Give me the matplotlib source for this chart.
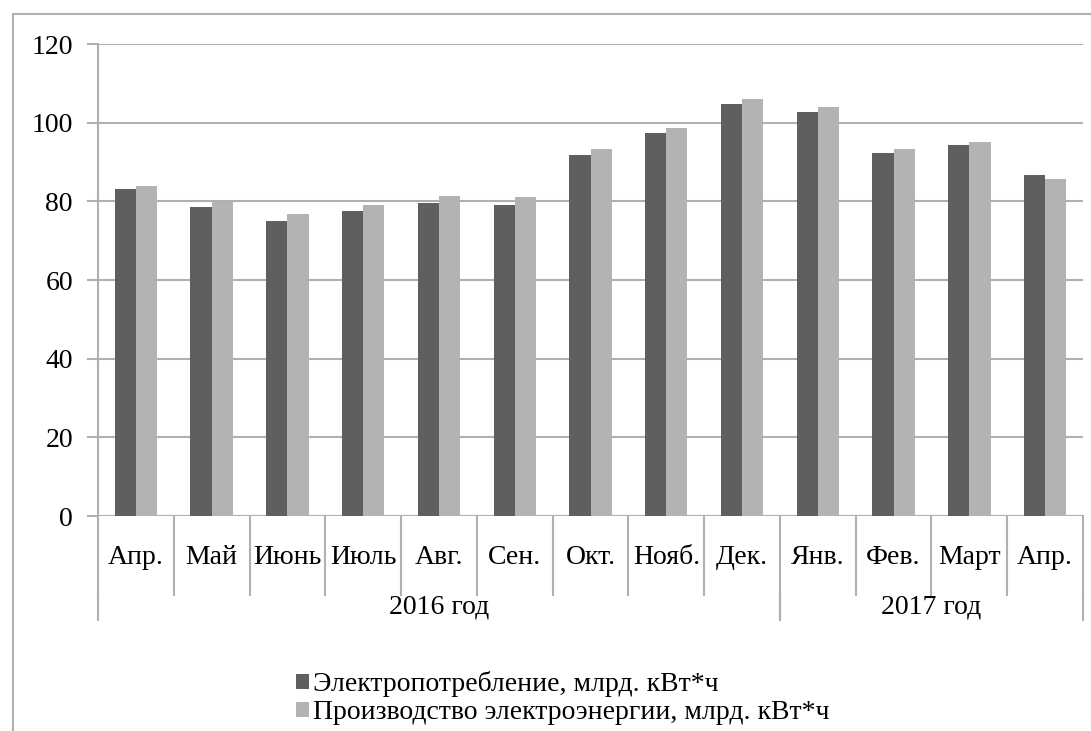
import matplotlib.pyplot as plt
import matplotlib.patches as mpatches
import numpy as np

pismo = 'Liberation Serif'
plt.rcParams['font.family'] = 'serif'
plt.rcParams['font.serif'] = [pismo, 'DejaVu Serif']

mesice = ['Апр.', 'Май', 'Июнь', 'Июль', 'Авг.', 'Сен.', 'Окт.', 'Нояб.', 'Дек.',
          'Янв.', 'Фев.', 'Март', 'Апр.']
roky = ['2016 год', '2017 год']
pocetVRoce = [9, 4]
spotreba = [83.1, 78.6, 75.0, 77.6, 79.5, 79.1, 91.8, 97.3, 104.8, 102.6, 92.4, 94.2, 86.7]
vyroba = [83.9, 79.9, 76.7, 79.0, 81.4, 81.2, 93.2, 98.7, 106.0, 104.1, 93.3, 95.2, 85.8]
nazvy = ['Электропотребление, млрд. кВт*ч', 'Производство электроэнергии, млрд. кВт*ч']

velikost = 20

fig = plt.figure(figsize=(10.91, 7.31), dpi=100)
ax = fig.add_axes([0.0898, 0.2941, 0.9029, 0.6457])

x = np.arange(len(mesice))
sirka = 0.28
b1 = ax.bar(x - sirka / 2, spotreba, sirka, color='#5f5f5f', label=nazvy[0], zorder=3)
b2 = ax.bar(x + sirka / 2, vyroba, sirka, color='#b3b3b3', label=nazvy[1], zorder=3)

ax.set_xlim(-0.5, len(mesice) - 0.5)
ax.set_ylim(0, 120)
ax.set_yticks(range(0, 121, 20))
ax.yaxis.grid(True, color='#b0b0b0', linewidth=1.5, zorder=0)
ax.tick_params(axis='y', length=8, color='#b0b0b0', width=1.5, labelsize=velikost, pad=10)
for t in ax.get_yticklabels():
    t.set_family(pismo)
ax.tick_params(axis='x', length=0, labelbottom=False)
for s in ['top', 'right', 'bottom']:
    ax.spines[s].set_visible(False)
ax.spines['left'].set_color('#b0b0b0')
ax.spines['left'].set_linewidth(1.5)
ax.axhline(0, color='#b0b0b0', linewidth=1.5, zorder=2)

tr = ax.get_xaxis_transform()
# popisky mesicu a oddelovace
for i, m in enumerate(mesice):
    ax.text(i, -0.087, m, transform=tr, ha='center', va='center', fontsize=velikost, family=pismo)
hranice = np.arange(len(mesice) + 1) - 0.5
for h in hranice:
    ax.plot([h, h], [0, -0.167], transform=tr, color='#b0b0b0', lw=1.5, clip_on=False)

# roky
zac = 0
for r, n in zip(roky, pocetVRoce):
    ax.text(zac + n / 2 - 0.5, -0.193, r, transform=tr, ha='center', va='center',
            fontsize=velikost, family=pismo)
    for h in [zac - 0.5, zac + n - 0.5]:
        ax.plot([h, h], [-0.167, -0.22], transform=tr, color='#b0b0b0', lw=1.5, clip_on=False)
    zac += n

fig.legend(handles=[b1, b2], loc='center', bbox_to_anchor=(0.516, 0.045), frameon=False,
           prop={'family': pismo, 'size': velikost}, handlelength=0.45, handleheight=0.45,
           handletextpad=0.15, labelspacing=0.1)

fig.patches.append(mpatches.Rectangle((13 / 1091, -0.1), 1.2, 1 - 14 / 731 + 0.1,
                                      transform=fig.transFigure, fill=False,
                                      edgecolor='#b0b0b0', lw=1.5))

fig.savefig('out.png', dpi=100)
